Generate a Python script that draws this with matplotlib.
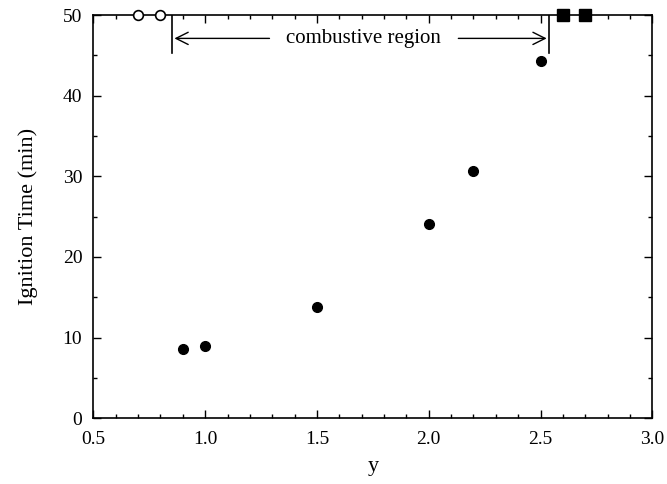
import numpy as np
import matplotlib.pyplot as plt
from matplotlib.ticker import MultipleLocator

plt.rcParams['font.family'] = ['Liberation Serif', 'DejaVu Serif']

# combustive points
y_vals = [0.9, 1.0, 1.5, 2.0, 2.2, 2.5]
t_ign = [8.6, 8.9, 13.8, 24.1, 30.6, 44.3]
# no ignition (open) and explosive (squares), plotted on the top line
y_noign = [0.7, 0.8]
t_noign = [50, 50]
y_expl = [2.6, 2.7]
t_expl = [50, 50]
region = (0.85, 2.54)

fig = plt.figure(figsize=(6.67, 4.84), dpi=100)
ax = fig.add_axes([0.14, 0.136, 0.838, 0.833])

ax.plot(y_vals, t_ign, 'o', color='black', ms=7)
ax.plot(y_noign, t_noign, 'o', mfc='white', mec='black', ms=7, mew=1.2,
        clip_on=False, zorder=5)
ax.plot(y_expl, t_expl, 's', color='black', ms=8, clip_on=False, zorder=5)

# combustive region marker
for xr in region:
    ax.plot([xr, xr], [45.3, 50], color='black', lw=1.2)
ax.annotate('', xy=(region[0], 47.1), xytext=(1.3, 47.1),
            arrowprops=dict(arrowstyle='->', color='black', lw=1, mutation_scale=22))
ax.annotate('', xy=(region[1], 47.1), xytext=(2.12, 47.1),
            arrowprops=dict(arrowstyle='->', color='black', lw=1, mutation_scale=22))
ax.text(1.71, 47.1, 'combustive region', ha='center', va='center', fontsize=15)

ax.set_xlim(0.5, 3.0)
ax.set_ylim(0, 50)
ax.xaxis.set_major_locator(MultipleLocator(0.5))
ax.xaxis.set_minor_locator(MultipleLocator(0.1))
ax.yaxis.set_major_locator(MultipleLocator(10))
ax.yaxis.set_minor_locator(MultipleLocator(5))
ax.xaxis.set_major_formatter(plt.FormatStrFormatter('%.1f'))
ax.tick_params(which='both', direction='in', top=True, right=True, labelsize=14)
ax.tick_params(which='major', length=6, width=1)
ax.tick_params(which='minor', length=3, width=1)
ax.tick_params(axis='x', pad=9)
ax.tick_params(axis='y', pad=8)
for s in ax.spines.values():
    s.set_linewidth(1.2)

ax.set_xlabel('y', fontsize=16, labelpad=7)
ax.set_ylabel('Ignition Time (min)', fontsize=16, labelpad=18)

fig.savefig('out.png', dpi=100)
